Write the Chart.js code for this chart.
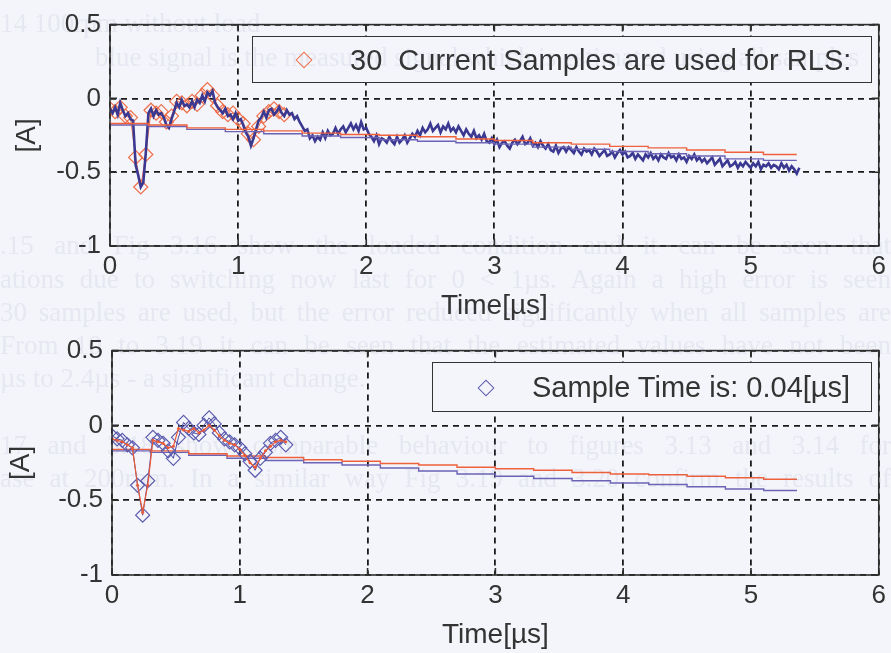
<!DOCTYPE html>
<html><head><meta charset="utf-8">
<script src="https://cdn.jsdelivr.net/npm/chart.js@4.4.1/dist/chart.umd.min.js"></script>
<style>
html,body{margin:0;padding:0}
body{width:891px;height:653px;overflow:hidden;position:relative;background:#f4f5fa;font-family:"Liberation Sans",Arial,sans-serif}
canvas{position:absolute;left:0}
.legend{position:absolute;box-sizing:border-box;border:1.6px solid #333;background:#f4f5fa;color:#333;font-size:29px;white-space:pre;z-index:3}
.legend span{position:absolute;top:50%;transform:translateY(-50%);line-height:1}
.mk{position:absolute;width:10px;height:10px;border:1.3px solid;transform:translate(-50%,-50%) rotate(45deg)}
.ghost{position:absolute;left:0;width:891px;font-family:"Liberation Serif",serif;font-size:27px;color:rgba(110,115,165,0.10);white-space:nowrap;pointer-events:none;z-index:5}
.j{text-align:justify;text-align-last:justify;white-space:normal;overflow:hidden;height:34px}
</style>
</head><body>
<canvas id="c1" width="891" height="326" style="top:0"></canvas>
<canvas id="c2" width="891" height="327" style="top:326px"></canvas>

<div class="legend" style="left:252px;top:36px;width:620px;height:47px">
  <div class="mk" style="left:51px;top:23px;border-color:#ef6f4a"></div>
  <span style="left:97px">30  Current Samples are used for RLS:</span>
</div>
<div class="legend" style="left:432px;top:362px;width:440px;height:50px">
  <div class="mk" style="left:53px;top:25px;border-color:#5c5caf"></div>
  <span style="left:99px">Sample Time is: 0.04[µs]</span>
</div>

<div class="ghost" style="top:8px;width:auto">14 100rpm without load</div>
<div class="ghost" style="top:42px;left:95px;width:auto">blue signal is the measured signal which is estimated using all samples</div>
<div class="ghost j" style="top:230px">.15 and Fig 3.16 show the loaded condition and it can be seen that</div>
<div class="ghost j" style="top:264px">ations due to switching now last for 0 &lt; 1µs. Again a high error is seen</div>
<div class="ghost j" style="top:297px">30 samples are used, but the error reduced significantly when all samples are</div>
<div class="ghost j" style="top:330px">From 10 to 3.19 it can be seen that the estimated values have not been</div>
<div class="ghost" style="top:363px;width:auto">µs to 2.4µs - a significant change.</div>
<div class="ghost j" style="top:430px">17 and 3.18 show comparable behaviour to figures 3.13 and 3.14 for</div>
<div class="ghost j" style="top:463px">ase at 200rpm. In a similar way Fig 3.19 and 3.20 confirm the results of</div>

<script>
// ---------- data ----------
const xTickValues = [0, 1, 2, 3, 4, 5, 6];
const yTickValues = [-1, -0.5, 0, 0.5];

// sample instants (µs) for the 0.04 µs samples
const sampleTimes = [0,0.04,0.08,0.12,0.16,0.20,0.24,0.28,0.32,0.36,0.40,0.44,0.48,0.52,0.56,0.60,0.64,0.68,0.72,0.76,0.80,0.84,0.88,0.92,0.96,1.00,1.04,1.08,1.12,1.16,1.20,1.24,1.28,1.32,1.36];

// top plot: red diamond samples
const topSamples = [-0.07,-0.09,-0.06,-0.12,-0.13,-0.40,-0.60,-0.38,-0.08,-0.10,-0.09,-0.16,-0.12,-0.02,-0.03,-0.05,-0.02,-0.04,0.02,0.06,0.02,-0.05,-0.09,-0.11,-0.10,-0.14,-0.17,-0.24,-0.28,-0.19,-0.12,-0.09,-0.07,-0.09,-0.11];

// bottom plot: blue diamond samples and red estimate through them
const bottomSamples = [-0.07,-0.09,-0.10,-0.13,-0.15,-0.40,-0.60,-0.37,-0.08,-0.10,-0.12,-0.17,-0.22,-0.08,0.02,-0.02,-0.05,-0.06,0.00,0.05,0.01,-0.05,-0.09,-0.11,-0.13,-0.15,-0.19,-0.24,-0.30,-0.22,-0.18,-0.12,-0.10,-0.08,-0.13];
const bottomEstimate = [-0.09,-0.10,-0.11,-0.13,-0.15,-0.40,-0.58,-0.40,-0.10,-0.11,-0.12,-0.15,-0.14,-0.02,-0.03,-0.04,-0.02,-0.05,-0.03,0.00,-0.03,-0.07,-0.10,-0.12,-0.13,-0.16,-0.20,-0.25,-0.28,-0.22,-0.17,-0.14,-0.11,-0.10,-0.11];

// measured current (top plot), sampled every 0.02 µs from 0
const measuredStart = 0, measuredStep = 0.02;
const measuredCurrent = [
-0.07,-0.10,-0.06,-0.11,-0.03,-0.08,-0.12,-0.10,-0.14,-0.15,
-0.45,-0.52,-0.60,-0.57,-0.36,-0.10,-0.07,-0.12,-0.08,-0.11,
-0.10,-0.13,-0.18,-0.20,-0.14,-0.09,-0.03,-0.06,-0.01,-0.05,
-0.04,-0.06,-0.02,-0.06,-0.01,-0.03,0.02,-0.02,0.04,0.02,
0.05,-0.03,-0.06,-0.08,-0.10,-0.07,-0.12,-0.11,-0.14,-0.10,
-0.15,-0.14,-0.18,-0.23,-0.26,-0.32,-0.27,-0.21,-0.15,-0.13,
-0.09,-0.13,-0.08,-0.07,-0.11,-0.09,-0.06,-0.10,-0.12,-0.08,
-0.11,-0.10,-0.14,-0.12,-0.16,-0.19,-0.22,-0.21,-0.27,-0.25,
-0.29,-0.26,-0.28,-0.23,-0.27,-0.22,-0.25,-0.24,-0.20,-0.24,
-0.21,-0.19,-0.23,-0.20,-0.17,-0.21,-0.18,-0.22,-0.16,-0.21,
-0.20,-0.24,-0.26,-0.29,-0.25,-0.31,-0.27,-0.28,-0.30,-0.26,
-0.29,-0.31,-0.26,-0.30,-0.28,-0.25,-0.30,-0.27,-0.24,-0.26,
-0.22,-0.25,-0.20,-0.23,-0.21,-0.17,-0.22,-0.20,-0.18,-0.23,
-0.19,-0.21,-0.17,-0.22,-0.20,-0.23,-0.19,-0.22,-0.25,-0.21,
-0.24,-0.26,-0.22,-0.27,-0.25,-0.28,-0.24,-0.29,-0.30,-0.27,
-0.31,-0.28,-0.33,-0.30,-0.29,-0.32,-0.34,-0.30,-0.28,-0.31,
-0.29,-0.26,-0.31,-0.30,-0.27,-0.32,-0.30,-0.33,-0.29,-0.32,
-0.34,-0.31,-0.35,-0.36,-0.32,-0.37,-0.34,-0.33,-0.36,-0.33,
-0.35,-0.37,-0.33,-0.36,-0.38,-0.34,-0.36,-0.35,-0.38,-0.34,
-0.36,-0.39,-0.37,-0.35,-0.39,-0.38,-0.36,-0.40,-0.37,-0.35,
-0.38,-0.36,-0.40,-0.39,-0.37,-0.41,-0.38,-0.40,-0.42,-0.38,
-0.40,-0.37,-0.41,-0.39,-0.42,-0.38,-0.40,-0.41,-0.37,-0.40,
-0.39,-0.42,-0.38,-0.41,-0.40,-0.43,-0.39,-0.41,-0.38,-0.42,
-0.40,-0.43,-0.41,-0.44,-0.42,-0.40,-0.45,-0.43,-0.41,-0.46,
-0.44,-0.42,-0.46,-0.45,-0.43,-0.47,-0.44,-0.46,-0.43,-0.45,
-0.47,-0.44,-0.46,-0.43,-0.48,-0.45,-0.46,-0.44,-0.47,-0.45,
-0.46,-0.48,-0.44,-0.47,-0.45,-0.49,-0.46,-0.48,-0.51,-0.47
];

// stepped RLS estimates over the whole record
const stepTimes = [0,0.3,0.6,0.9,1.2,1.5,1.8,2.1,2.4,2.7,3.0,3.3,3.6,3.9,4.2,4.5,4.8,5.1,5.36];
const topRedStep    = [-0.165,-0.17,-0.18,-0.20,-0.21,-0.22,-0.235,-0.245,-0.25,-0.26,-0.275,-0.285,-0.30,-0.31,-0.325,-0.335,-0.35,-0.365,-0.38];
const topBlueStep   = [-0.17,-0.18,-0.19,-0.21,-0.225,-0.24,-0.255,-0.265,-0.28,-0.29,-0.30,-0.31,-0.33,-0.345,-0.36,-0.375,-0.39,-0.41,-0.42];
const bottomRedStep = [-0.15,-0.16,-0.17,-0.19,-0.205,-0.215,-0.23,-0.24,-0.255,-0.265,-0.28,-0.29,-0.30,-0.315,-0.325,-0.33,-0.34,-0.35,-0.36];
const bottomBlueStep= [-0.16,-0.17,-0.18,-0.20,-0.22,-0.235,-0.25,-0.265,-0.285,-0.305,-0.325,-0.34,-0.355,-0.37,-0.385,-0.395,-0.41,-0.425,-0.435];

// ---------- helpers ----------
const pts = (xs, ys) => ys.map((v, i) => ({x: xs[i], y: v}));
const measuredTimes = measuredCurrent.map((_, i) => +(measuredStart + i * measuredStep).toFixed(2));

const boxPlugin = {
  id: 'matlabBox',
  afterDatasetsDraw(chart) {
    const {ctx, chartArea: a, scales: {x, y}} = chart;
    ctx.save();
    ctx.strokeStyle = '#2e2e2e';
    ctx.lineWidth = 1.6;
    ctx.strokeRect(a.left, a.top, a.right - a.left, a.bottom - a.top);
    ctx.beginPath();
    x.ticks.forEach(t => {
      const p = x.getPixelForValue(t.value);
      ctx.moveTo(p, a.bottom); ctx.lineTo(p, a.bottom - 7);
      ctx.moveTo(p, a.top); ctx.lineTo(p, a.top + 7);
    });
    y.ticks.forEach(t => {
      const p = y.getPixelForValue(t.value);
      ctx.moveTo(a.left, p); ctx.lineTo(a.left + 7, p);
      ctx.moveTo(a.right, p); ctx.lineTo(a.right - 7, p);
    });
    ctx.stroke();
    ctx.restore();
  }
};

function makeChart(id, datasets, L) {
  const tickFont = {family: '"Liberation Sans", Arial, sans-serif', size: 26};
  const titleFont = {family: '"Liberation Sans", Arial, sans-serif', size: 28};
  return new Chart(document.getElementById(id), {
    type: 'line',
    data: {datasets},
    plugins: [boxPlugin],
    options: {
      responsive: false, animation: false, devicePixelRatio: 1,
      layout: {padding: {top: L.padTop, right: L.padRight, left: 0, bottom: 0}},
      plugins: {legend: {display: false}, tooltip: {enabled: false}},
      elements: {line: {tension: 0}},
      scales: {
        x: {
          type: 'linear', min: 0, max: 6,
          afterBuildTicks: s => { s.ticks = xTickValues.map(v => ({value: v})); },
          afterFit: s => { s.height = L.xH; },
          ticks: {font: tickFont, color: '#333', padding: 5, maxRotation: 0, autoSkip: false, callback: v => String(v)},
          grid: {color: '#1a1a1a', lineWidth: 1.8, drawTicks: false},
          border: {display: false, dash: [6, 5]},
          title: {display: true, text: 'Time[µs]', font: titleFont, color: '#333', padding: {top: 0, bottom: L.xTitlePad}}
        },
        y: {
          type: 'linear', min: -1, max: 0.5,
          afterBuildTicks: s => { s.ticks = yTickValues.map(v => ({value: v})); },
          afterFit: s => { s.width = L.yW; },
          ticks: {font: tickFont, color: '#333', padding: 9, autoSkip: false, callback: v => String(v)},
          grid: {color: '#1a1a1a', lineWidth: 1.8, drawTicks: false},
          border: {display: false, dash: [6, 5]},
          title: {display: true, text: '[A]', font: titleFont, color: '#333', padding: {top: L.yTitlePad, bottom: 0}}
        }
      }
    }
  });
}

// ---------- top chart ----------
makeChart('c1', [
  {data: pts(stepTimes, topRedStep), borderColor: '#f0603a', borderWidth: 1.4, stepped: 'after', pointRadius: 0, order: 0},
  {data: pts(stepTimes, topBlueStep), borderColor: '#6b63b5', borderWidth: 1.4, stepped: 'after', pointRadius: 0, order: 1},
  {data: pts(measuredTimes, measuredCurrent), borderColor: '#3a3890', borderWidth: 2.6, pointRadius: 0, order: 2},
  {data: pts(sampleTimes, topSamples), borderColor: '#ef6f4a', borderWidth: 1, pointStyle: 'rectRot', pointRadius: 7,
   pointBorderWidth: 1.2, pointBorderColor: '#ef6f4a', pointBackgroundColor: 'rgba(0,0,0,0)', order: 3}
], {padTop: 23, padRight: 8, xH: 80, yW: 110, xTitlePad: 3, yTitlePad: 10});

// ---------- bottom chart ----------
makeChart('c2', [
  {data: pts(sampleTimes, bottomEstimate), borderColor: '#ee5a36', borderWidth: 1.2, pointStyle: 'circle', pointRadius: 1.5,
   pointBackgroundColor: '#ee5a36', pointBorderWidth: 0, order: 0},
  {data: pts(sampleTimes, bottomSamples), borderColor: '#4a4aa0', borderWidth: 1, pointStyle: 'rectRot', pointRadius: 7,
   pointBorderWidth: 1.2, pointBorderColor: '#5c5caf', pointBackgroundColor: 'rgba(0,0,0,0)', order: 1},
  {data: pts(stepTimes, bottomRedStep), borderColor: '#f0603a', borderWidth: 1.4, stepped: 'after', pointRadius: 0, order: 2},
  {data: pts(stepTimes, bottomBlueStep), borderColor: '#6b63b5', borderWidth: 1.4, stepped: 'after', pointRadius: 0, order: 3}
], {padTop: 24, padRight: 9, xH: 78, yW: 112, xTitlePad: 1, yTitlePad: 4});
</script>
</body></html>
